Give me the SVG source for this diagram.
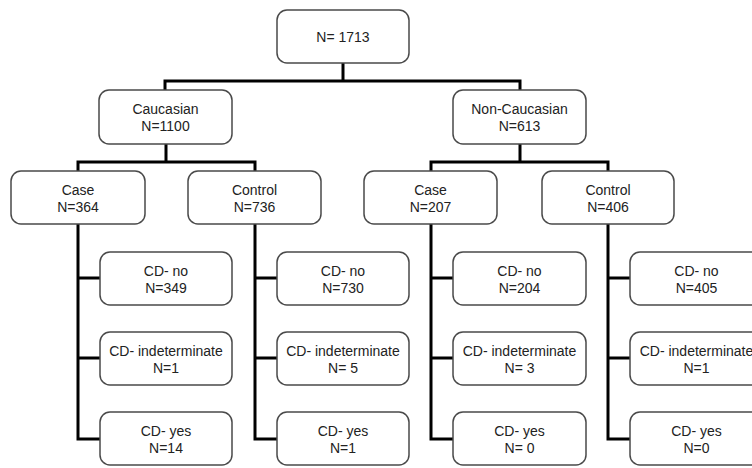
<svg xmlns="http://www.w3.org/2000/svg" width="752" height="468" viewBox="0 0 752 468">
<style>
.box{fill:#fff;stroke:#4a4a4a;stroke-width:1.5}
.t{font-family:"Liberation Sans",Arial,sans-serif;font-size:14px;fill:#222;text-anchor:middle}
.c{fill:none;stroke:#000;stroke-width:3;stroke-linejoin:miter;stroke-linecap:square}
</style>
<rect width="752" height="468" fill="#fff"/>
<g id="connectors">
<path class="c" d="M343 63V81M165 89V81H520V89"/>
<path class="c" d="M166 144V162M78 170V162H255V170"/>
<path class="c" d="M520 144V162M431 170V162H608V170"/>
<path class="c" d="M78 224V439H99M78 278H99M78 358H99"/>
<path class="c" d="M255 224V439H276M255 278H276M255 358H276"/>
<path class="c" d="M431 224V439H452M431 278H452M431 358H452"/>
<path class="c" d="M608 224V439H629M608 278H629M608 358H629"/>
</g>
<g id="root"><rect class="box" x="277" y="10" width="132" height="53" rx="10"/><text class="t" x="343" y="42">N= 1713</text></g>
<g id="caucasian"><rect class="box" x="99" y="90" width="133" height="54" rx="10"/><text class="t" x="165.5" y="114">Caucasian</text><text class="t" x="165.5" y="131">N=1100</text></g>
<g id="noncaucasian"><rect class="box" x="453" y="90" width="133" height="54" rx="10"/><text class="t" x="519.5" y="114">Non-Caucasian</text><text class="t" x="519.5" y="131">N=613</text></g>
<g id="case1"><rect class="box" x="11" y="171" width="134" height="53" rx="10"/><text class="t" x="78" y="195">Case</text><text class="t" x="78" y="212">N=364</text></g>
<g id="control1"><rect class="box" x="188" y="171" width="133" height="53" rx="10"/><text class="t" x="254.5" y="195">Control</text><text class="t" x="254.5" y="212">N=736</text></g>
<g id="case2"><rect class="box" x="364" y="171" width="133" height="53" rx="10"/><text class="t" x="430.5" y="195">Case</text><text class="t" x="430.5" y="212">N=207</text></g>
<g id="control2"><rect class="box" x="542" y="171" width="132" height="53" rx="10"/><text class="t" x="608" y="195">Control</text><text class="t" x="608" y="212">N=406</text></g>
<g id="c1-no"><rect class="box" x="100" y="252" width="132" height="53" rx="10"/><text class="t" x="166" y="276">CD- no</text><text class="t" x="166" y="293">N=349</text></g>
<g id="c1-ind"><rect class="box" x="100" y="332" width="132" height="53" rx="10"/><text class="t" x="166" y="356">CD- indeterminate</text><text class="t" x="166" y="373">N=1</text></g>
<g id="c1-yes"><rect class="box" x="100" y="412" width="132" height="53" rx="10"/><text class="t" x="166" y="436">CD- yes</text><text class="t" x="166" y="453">N=14</text></g>
<g id="k1-no"><rect class="box" x="277" y="252" width="132" height="53" rx="10"/><text class="t" x="343" y="276">CD- no</text><text class="t" x="343" y="293">N=730</text></g>
<g id="k1-ind"><rect class="box" x="277" y="332" width="132" height="53" rx="10"/><text class="t" x="343" y="356">CD- indeterminate</text><text class="t" x="343" y="373">N= 5</text></g>
<g id="k1-yes"><rect class="box" x="277" y="412" width="132" height="53" rx="10"/><text class="t" x="343" y="436">CD- yes</text><text class="t" x="343" y="453">N=1</text></g>
<g id="c2-no"><rect class="box" x="453" y="252" width="133" height="53" rx="10"/><text class="t" x="519.5" y="276">CD- no</text><text class="t" x="519.5" y="293">N=204</text></g>
<g id="c2-ind"><rect class="box" x="453" y="332" width="133" height="53" rx="10"/><text class="t" x="519.5" y="356">CD- indeterminate</text><text class="t" x="519.5" y="373">N= 3</text></g>
<g id="c2-yes"><rect class="box" x="453" y="412" width="133" height="53" rx="10"/><text class="t" x="519.5" y="436">CD- yes</text><text class="t" x="519.5" y="453">N= 0</text></g>
<g id="k2-no"><rect class="box" x="630" y="252" width="133" height="53" rx="10"/><text class="t" x="696.5" y="276">CD- no</text><text class="t" x="696.5" y="293">N=405</text></g>
<g id="k2-ind"><rect class="box" x="630" y="332" width="133" height="53" rx="10"/><text class="t" x="696.5" y="356">CD- indeterminate</text><text class="t" x="696.5" y="373">N=1</text></g>
<g id="k2-yes"><rect class="box" x="630" y="412" width="133" height="53" rx="10"/><text class="t" x="696.5" y="436">CD- yes</text><text class="t" x="696.5" y="453">N=0</text></g>
</svg>
